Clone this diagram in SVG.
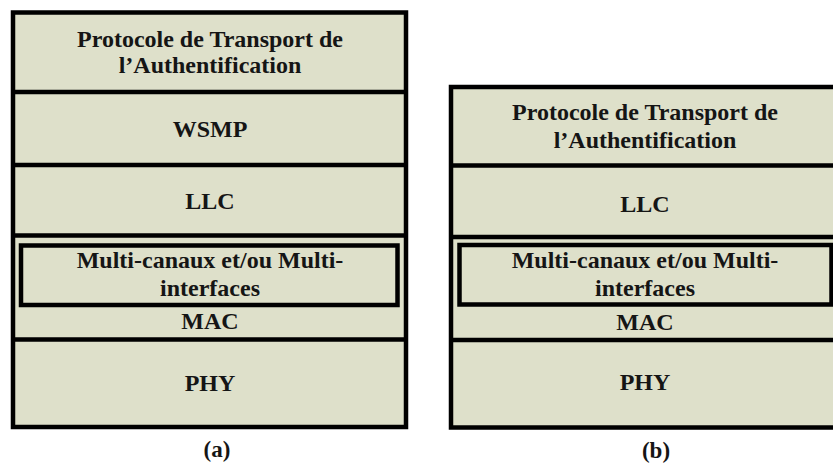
<svg xmlns="http://www.w3.org/2000/svg" width="833" height="463" viewBox="0 0 833 463">
<style>
.box{fill:#dee0ca;stroke:#000;stroke-width:4.5}
.inner{fill:#dee0ca;stroke:#000;stroke-width:4.5}
.sep{stroke:#000;stroke-width:4.5;fill:none}
text{font-family:"Liberation Serif","Times New Roman",serif;font-weight:bold;font-size:24px;fill:#151515;text-anchor:middle}
.cap{font-size:23px}
</style>
<rect width="833" height="463" fill="#fff"/>
<g id="stack-a">
<rect class="box" x="13" y="12.5" width="393" height="414.5"/>
<g id="a-auth"><text x="210" y="47">Protocole de Transport de</text><text x="210" y="73">l’Authentification</text></g>
<line class="sep" x1="13" y1="92" x2="406" y2="92"/>
<g id="a-wsmp"><text x="210" y="137">WSMP</text></g>
<line class="sep" x1="13" y1="165" x2="406" y2="165"/>
<g id="a-llc"><text x="210" y="209">LLC</text></g>
<line class="sep" x1="13" y1="235.5" x2="406" y2="235.5"/>
<g id="a-mac">
<rect class="inner" x="21" y="245.5" width="376.5" height="59.5"/>
<text x="210" y="268">Multi-canaux et/ou Multi-</text>
<text x="210" y="296">interfaces</text>
<text x="210" y="329">MAC</text>
</g>
<line class="sep" x1="13" y1="339.5" x2="406" y2="339.5"/>
<g id="a-phy"><text x="210" y="391">PHY</text></g>
</g>
<g id="stack-b">
<rect class="box" x="451" y="87" width="391" height="340.5"/>
<g id="b-auth"><text x="645" y="120">Protocole de Transport de</text><text x="645" y="148">l’Authentification</text></g>
<line class="sep" x1="451" y1="165.5" x2="842" y2="165.5"/>
<g id="b-llc"><text x="645" y="212">LLC</text></g>
<line class="sep" x1="451" y1="237" x2="842" y2="237"/>
<g id="b-mac">
<rect class="inner" x="459.5" y="245" width="372" height="59.5"/>
<text x="645" y="268">Multi-canaux et/ou Multi-</text>
<text x="645" y="296">interfaces</text>
<text x="645" y="330">MAC</text>
</g>
<line class="sep" x1="451" y1="340" x2="842" y2="340"/>
<g id="b-phy"><text x="645" y="390">PHY</text></g>
</g>
<g id="connectors"></g>
<text class="cap" x="217" y="457">(a)</text>
<text class="cap" x="656" y="458">(b)</text>
</svg>
